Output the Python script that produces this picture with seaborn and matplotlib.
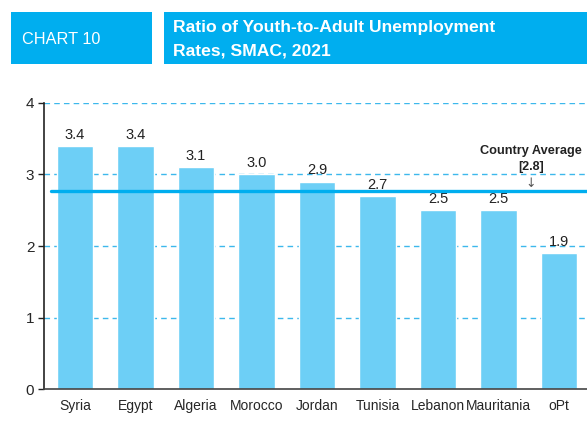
import matplotlib
matplotlib.use('Agg')
import matplotlib.pyplot as plt
from matplotlib.patches import Rectangle
import pandas as pd
import seaborn as sns

countries = ['Syria', 'Egypt', 'Algeria', 'Morocco', 'Jordan', 'Tunisia', 'Lebanon', 'Mauritania', 'oPt']
ratios = [3.4, 3.4, 3.1, 3.0, 2.9, 2.7, 2.5, 2.5, 1.9]
country_average = 2.77
yticks = [0, 1, 2, 3, 4]

df = pd.DataFrame({'country': countries, 'ratio': ratios})

sns.set_style('white')
plt.rcParams['font.family'] = ['Liberation Sans', 'DejaVu Sans']

fig = plt.figure(figsize=(5.87, 4.30), dpi=100)
ax = fig.add_axes([0.075, 0.0953, 0.925, 0.6652])

for y in yticks[1:]:
    ax.axhline(y, color='#3DB8EC', lw=1.0, ls=(0, (4, 3)), zorder=0)

sns.barplot(data=df, x='country', y='ratio', color='#6DCFF6', saturation=1,
            width=0.6, ax=ax, zorder=2)
ax.bar_label(ax.containers[0], fmt='%.1f', padding=3, fontsize=10.5, color='#222222')

ax.plot([-0.4, 8.6], [country_average, country_average], color='#00AEEF', lw=2.4, zorder=3)
ax.text(7.53, 3.33, 'Country Average', ha='center', va='center', fontsize=9.2,
        fontweight='bold', color='#222222')
ax.text(7.53, 3.1, '[2.8]', ha='center', va='center', fontsize=9,
        fontweight='bold', color='#222222')
ax.text(7.53, 2.88, '\u2193', ha='center', va='center', fontsize=9, color='#555555',
        family=['DejaVu Sans'])

ax.set_xlim(-0.51, 8.46)
ax.set_ylim(0, 4)
ax.set_yticks(yticks)
ax.set_xlabel('')
ax.set_ylabel('')
ax.tick_params(axis='y', left=True, length=4, width=1, color='#222222', labelsize=11, pad=3)
ax.tick_params(axis='x', bottom=False, labelsize=10, pad=4)
for side in ['top', 'right']:
    ax.spines[side].set_visible(False)
ax.spines['left'].set_color('#222222')
ax.spines['bottom'].set_color('#444444')
ax.spines['left'].set_linewidth(1.2)
ax.spines['bottom'].set_linewidth(1.2)

fig.patches.append(Rectangle((0.0187, 0.851), 0.240, 0.121, transform=fig.transFigure,
                             facecolor='#00AEEF', edgecolor='none', zorder=0))
fig.patches.append(Rectangle((0.279, 0.851), 0.721, 0.121, transform=fig.transFigure,
                             facecolor='#00AEEF', edgecolor='none', zorder=0))
fig.text(0.037, 0.907, 'CHART 10', color='white', fontsize=11.7, va='center', ha='left')
fig.text(0.295, 0.937, 'Ratio of Youth-to-Adult Unemployment', color='white',
         fontsize=12.6, fontweight='bold', va='center', ha='left')
fig.text(0.295, 0.881, 'Rates, SMAC, 2021', color='white',
         fontsize=12.6, fontweight='bold', va='center', ha='left')

fig.savefig('out.png', dpi=100)
